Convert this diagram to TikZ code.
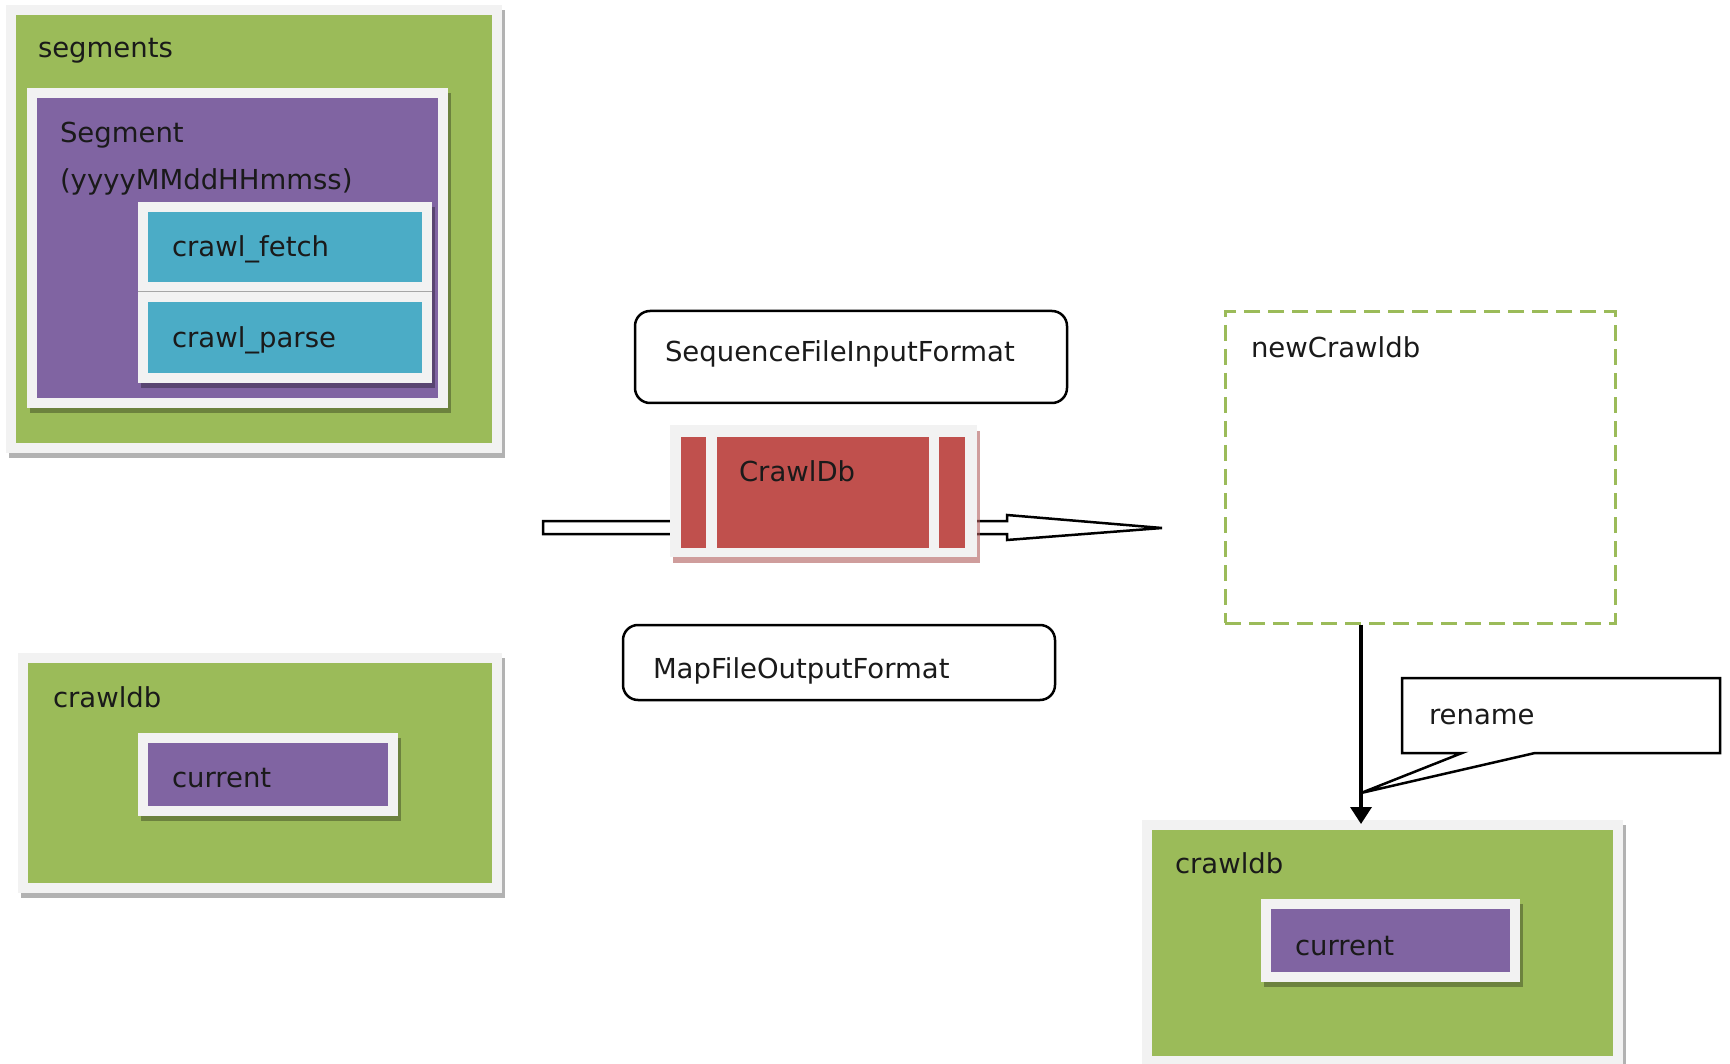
\documentclass[tikz,border=0pt]{standalone}
\usepackage{fontspec}
\setmainfont{DejaVu Sans}
\usetikzlibrary{arrows.meta,calc}

\definecolor{accgreen}{HTML}{9BBB59}
\definecolor{accpurple}{HTML}{8064A2}
\definecolor{acccyan}{HTML}{4BACC6}
\definecolor{accred}{HTML}{C0504D}
\definecolor{framegray}{HTML}{F2F2F2}
\definecolor{ink}{HTML}{1A1A1A}

% framed panel with a soft drop shadow: name, x1, y1, x2, y2, fill colour
\newcommand{\panelbox}[6]{%
  \fill[black, fill opacity=0.3] ({#2+3},{#3+5}) rectangle ({#4+3},{#5+5});
  \node[frm, fill=#6, minimum width={#4-#2-10}, minimum height={#5-#3-10}]
    (#1) at ({(#2+#4)/2},{(#3+#5)/2}) {};%
}
% plain filled rectangle node: name, x1, y1, x2, y2, fill colour
\newcommand{\plainbox}[6]{%
  \node[plain, fill=#6, minimum width={#4-#2}, minimum height={#5-#3}]
    (#1) at ({(#2+#4)/2},{(#3+#5)/2}) {};%
}

\tikzset{
  frm/.style={draw=framegray, line width=10pt, inner sep=0pt, outer sep=0pt, rectangle},
  plain/.style={draw=none, inner sep=0pt, outer sep=0pt, rectangle},
  txt/.style={anchor=base west, inner sep=0pt, outer sep=0pt, text=ink,
    font=\fontsize{27.5}{32}\selectfont},
  roundbox/.style={draw=black, line width=2.5pt, rounded corners=15pt, fill=white,
    inner sep=0pt, rectangle},
  blockarrow/.style={draw=black, line width=2.5pt, fill=white, line join=miter},
  callout/.style={draw=black, line width=2.5pt, fill=white, line join=miter},
  dashbox/.style={draw=accgreen, line width=3pt, dash pattern=on 16pt off 8pt,
    inner sep=0pt, rectangle},
  droparrow/.style={draw=black, line width=3.5pt, -{Triangle[width=21pt,length=17pt]}}
}

\begin{document}
\begin{tikzpicture}[x=1pt, y=-1pt]
  \useasboundingbox (0,0) rectangle (1730,1064);
  \fill[white] (0,0) rectangle (1730,1064);

  % segments folder
  \panelbox{segments}{6}{5}{502}{453}{accgreen}
  \panelbox{segment}{27}{88}{448}{408}{accpurple}
  \panelbox{fetch}{138}{202}{432}{292}{acccyan}
  \panelbox{parse}{138}{292}{432}{383}{acccyan}
  \draw[black!35, line width=1pt] (fetch.south west -| parse.west) ++(-5,5) -- ++(294,0);

  % crawldb folder (input)
  \panelbox{crawldbL}{18}{653}{502}{893}{accgreen}
  \panelbox{currentL}{138}{733}{398}{816}{accpurple}

  % block arrow running through the CrawlDb job
  \coordinate (flowin) at (543,527.5);
  \coordinate (flowout) at (1162,528);
  \draw[blockarrow] ($(flowin)+(0,-6.5)$) -- (1007,521) -- (1007,515) -- (flowout)
    -- (1007,540) -- (1007,534) -- ($(flowin)+(0,6.5)$) -- cycle;

  % CrawlDb job
  \fill[accred!75!gray, fill opacity=0.6] (673,431) rectangle (980,563);
  \plainbox{crawljob}{670}{425}{977}{557}{framegray}
  \plainbox{barL}{681}{437}{706}{548}{accred}
  \plainbox{barM}{717}{437}{929}{548}{accred}
  \plainbox{barR}{939}{437}{965}{548}{accred}

  % input / output formats
  \node[roundbox, minimum width=432pt, minimum height=92pt] (seqin) at (851,357) {};
  \node[roundbox, minimum width=432pt, minimum height=75pt] (mapout) at (839,662.5) {};

  % new crawldb
  \node[dashbox, minimum width=390pt, minimum height=311pt] (newcdb) at (1420,467.5) {};

  % crawldb folder (output)
  \panelbox{crawldbR}{1142}{820}{1623}{1066}{accgreen}
  \panelbox{currentR}{1261}{899}{1520}{982}{accpurple}

  % rename callout
  \coordinate (calltip) at (1361,793);
  \draw[callout] (1402,678) -- (1720,678) -- (1720,753) -- (1535,753) -- (calltip)
    -- (1462,753) -- (1402,753) -- cycle;

  % move newCrawldb into place
  \coordinate (dropx) at (1361,0);
  \draw[droparrow] (newcdb.south -| dropx) -- ($(crawldbR.north -| dropx)+(0,-1)$);

  % labels
  \node[txt] (tsegments) at (38,58) {segments};
  \node[txt] (tsegment) at (60,143) {Segment};
  \node[txt] (tstamp) at (60,190) {(yyyyMMddHHmmss)};
  \node[txt] (tfetch) at (172,257) {crawl\_fetch};
  \node[txt] (tparse) at (172,348) {crawl\_parse};
  \node[txt] (tcrawldbL) at (53,707) {crawldb};
  \node[txt] (tcurrentL) at (172,787) {current};
  \node[txt] (tseq) at (665,362) {SequenceFileInputFormat};
  \node[txt] (tcrawljob) at (739,482) {CrawlDb};
  \node[txt] (tmap) at (653,678) {MapFileOutputFormat};
  \node[txt] (tnew) at (1251,358) {newCrawldb};
  \node[txt] (trename) at (1429,724) {rename};
  \node[txt] (tcrawldbR) at (1175,873) {crawldb};
  \node[txt] (tcurrentR) at (1295,955) {current};
\end{tikzpicture}
\end{document}
